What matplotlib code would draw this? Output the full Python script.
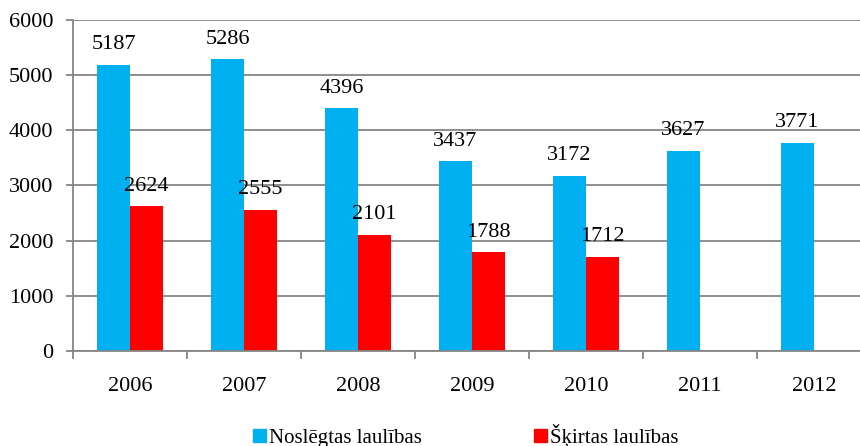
import numpy as np
import matplotlib
matplotlib.use("Agg")
import matplotlib.pyplot as plt
from matplotlib.patches import Patch

# data
years = ["2006", "2007", "2008", "2009", "2010", "2011", "2012"]
married = [5187, 5286, 4396, 3437, 3172, 3627, 3771]
divorced = [2624, 2555, 2101, 1788, 1712]

blue = "#00B0F0"
red = "#FF0000"
grey = "#868686"

plt.rcParams["font.family"] = ["Liberation Serif", "DejaVu Serif"]

fig = plt.figure(figsize=(8.6, 4.46), dpi=100)
ax = fig.add_axes([73 / 860, 95 / 446, 798 / 860, 331 / 446])

x = np.arange(len(years))
w = 0.29
b1 = ax.bar(x - w / 2, married, width=w, color=blue)
b2 = ax.bar(x[:len(divorced)] + w / 2, divorced, width=w, color=red)

# value labels above bars
for bars, vals in [(b1, married), (b2, divorced)]:
    for r, v in zip(bars, vals):
        ax.annotate(str(v), (r.get_x() + r.get_width() / 2, v),
                    xytext=(0, 14.5), textcoords="offset points",
                    ha="center", va="center", fontsize=16)

ax.set_xlim(-0.5, len(years) - 0.5)
ax.set_ylim(0, 6000)
ax.set_yticks(range(0, 6001, 1000))
ax.yaxis.grid(True, color=grey, linewidth=1.3)
ax.set_axisbelow(True)

# category labels in the middle, ticks on the boundaries
ax.set_xticks(x)
ax.set_xticklabels(years, fontsize=16)
ax.set_xticks(np.arange(-0.5, len(years)), minor=True)
ax.tick_params(axis="x", which="major", length=0, pad=19)
ax.tick_params(axis="x", which="minor", length=6, color=grey, width=1.3)
ax.tick_params(axis="y", length=5, color=grey, width=1.3, labelsize=16, pad=9)

for s in ["top", "right"]:
    ax.spines[s].set_visible(False)
for s in ["left", "bottom"]:
    ax.spines[s].set_color(grey)
    ax.spines[s].set_linewidth(1.3)

handles = [Patch(color=blue), Patch(color=red)]
fig.legend(handles, ["Noslēgtas laulības", "Šķirtas laulības"],
           loc="center", bbox_to_anchor=(466 / 860, 10 / 446), ncol=2,
           frameon=False, fontsize=15, handlelength=0.6, handleheight=0.6,
           handletextpad=0.15, columnspacing=5.4, borderpad=0.1)

fig.savefig("out.png", dpi=100)
